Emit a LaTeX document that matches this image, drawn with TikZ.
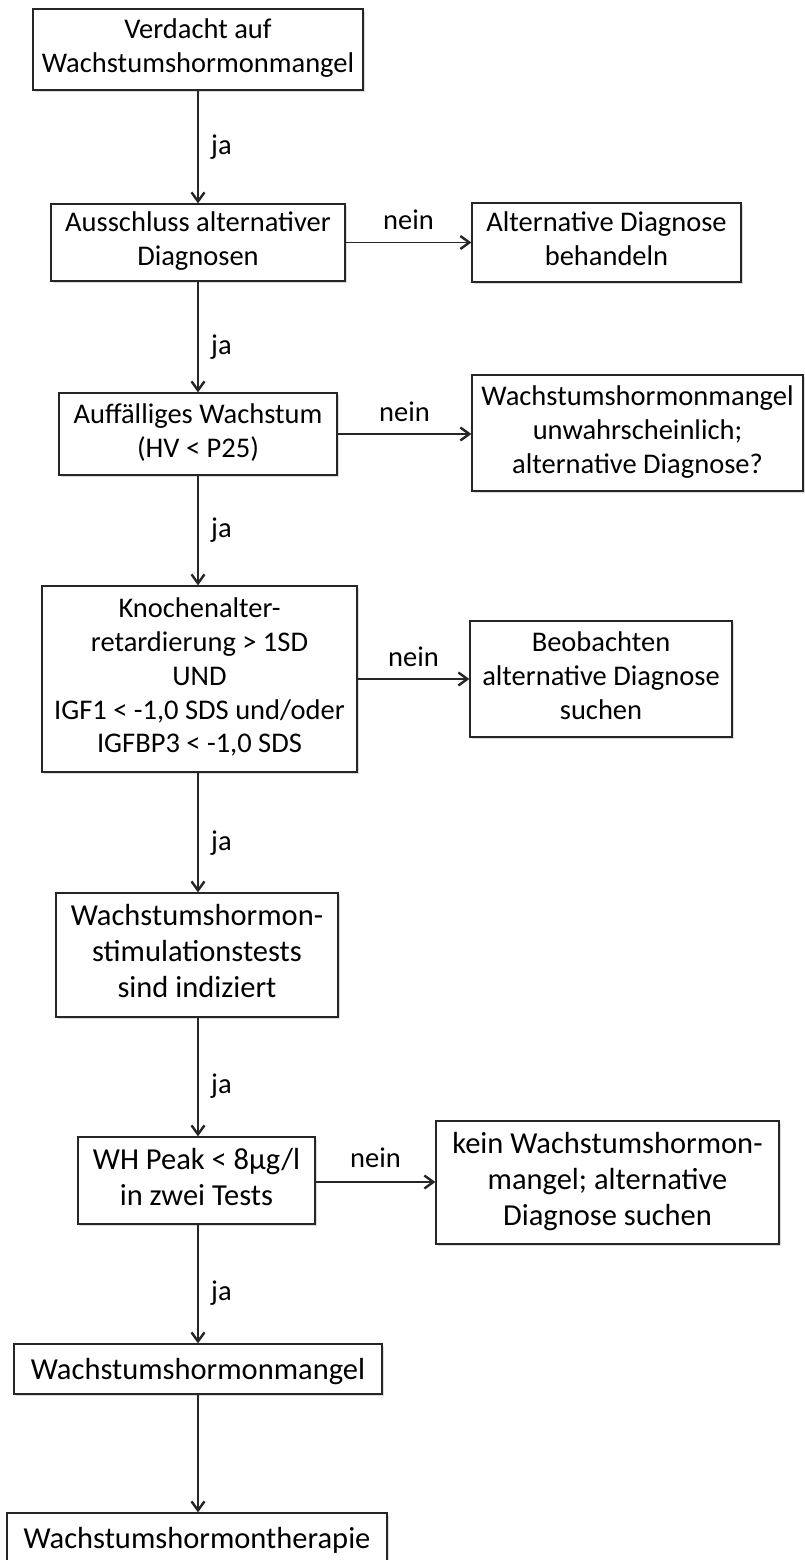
\documentclass[tikz,border=0pt]{standalone}
\usepackage{fontspec}
\setmainfont{Carlito}
\usetikzlibrary{arrows.meta,shadows}
% line struts so that text sits evenly inside the boxes
\newcommand\smallstrut{\rule[-7.3pt]{0pt}{33.8pt}}
\newcommand\largestrut{\rule[-7.9pt]{0pt}{36pt}}
\begin{document}
\begin{tikzpicture}[x=1pt,y=-1pt,
  txt/.style={font=\fontsize{28.5}{33.8}\selectfont},
  boxbase/.style={draw=black!85, fill=white, line width=1.2pt, inner sep=0pt, align=center,
    drop shadow={shadow xshift=1.6pt, shadow yshift=-1.6pt, fill=black, opacity=0.14}},
  box/.style={boxbase, txt,
    execute at begin node=\smallstrut, execute at end node=\smallstrut},
  bigbox/.style={boxbase, font=\fontsize{30.5}{36}\selectfont,
    execute at begin node=\largestrut, execute at end node=\largestrut},
  lbl/.style={txt, inner sep=0pt},
  arr/.style={line width=1.2pt, draw=black!85,
    -{Straight Barb[length=9pt,width=13pt,line width=2.4pt]}},
]
\useasboundingbox (0,0) rectangle (804,1560);

% main column
\node[box, minimum width=330pt, minimum height=81pt]     (n1) at (198,49.5)   {Verdacht auf\\Wachstumshormonmangel};
\node[box, minimum width=294pt, minimum height=77pt]     (n2) at (198,242.5)  {Ausschluss alternativer\\Diagnosen};
\node[box, minimum width=278pt, minimum height=82pt]     (n3) at (198,434)    {Auffälliges Wachstum\\(HV < P25)};
\node[box, minimum width=315pt, minimum height=186pt]    (n4) at (199.5,679)  {Knochenalter-\\retardierung > 1SD\\UND\\IGF1 < -1,0 SDS und/oder\\IGFBP3 < -1,0 SDS};
\node[bigbox, minimum width=282pt, minimum height=124pt] (n5) at (197,955)    {Wachstumshormon-\\stimulationstests\\sind indiziert};
\node[bigbox, minimum width=237pt, minimum height=87pt]  (n6) at (196.5,1180.5){WH Peak < 8µg/l\\in zwei Tests};
\node[bigbox, minimum width=368pt, minimum height=50pt]  (n7) at (198,1369)   {Wachstumshormonmangel};
\node[bigbox, minimum width=380pt, minimum height=50pt]  (n8) at (197,1538)   {Wachstumshormontherapie};

% side branches
\node[box, minimum width=269pt, minimum height=79pt]     (a2) at (606.5,242.5) {Alternative Diagnose\\behandeln};
\node[box, minimum width=331pt, minimum height=116pt]    (a3) at (637.5,433)   {Wachstumshormonmangel\\unwahrscheinlich;\\alternative Diagnose?};
\node[box, minimum width=262pt, minimum height=116pt]    (a4) at (601,679)     {Beobachten\\alternative Diagnose\\suchen};
\node[bigbox, minimum width=343pt, minimum height=123pt] (a6) at (607.5,1182.5){kein Wachstumshormon-\\mangel; alternative\\Diagnose suchen};

% "ja" connectors, all on one vertical line
\coordinate (spine) at (198,0);
\draw[arr] (spine |- n1.south) -- (spine |- n2.north);
\draw[arr] (spine |- n2.south) -- (spine |- n3.north);
\draw[arr] (spine |- n3.south) -- (spine |- n4.north);
\draw[arr] (spine |- n4.south) -- (spine |- n5.north);
\draw[arr] (spine |- n5.south) -- (spine |- n6.north);
\draw[arr] (spine |- n6.south) -- (spine |- n7.north);
\draw[arr] (spine |- n7.south) -- (spine |- n8.north);

\node[lbl, anchor=base west] (j1) at (211,154)  {ja};
\node[lbl, anchor=base west] (j2) at (211,354)  {ja};
\node[lbl, anchor=base west] (j3) at (211,537)  {ja};
\node[lbl, anchor=base west] (j4) at (211,850)  {ja};
\node[lbl, anchor=base west] (j5) at (211,1093) {ja};
\node[lbl, anchor=base west] (j6) at (211,1300) {ja};

% "nein" connectors
\draw[arr] (n2.east) -- node[lbl, anchor=base, yshift=13pt] (k2) {nein} (n2.east -| a2.west);
\draw[arr] (n3.east) -- node[lbl, anchor=base, yshift=13pt] (k3) {nein} (n3.east -| a3.west);
\draw[arr] (n4.east) -- node[lbl, anchor=base, yshift=13pt] (k4) {nein} (n4.east -| a4.west);
\draw[arr] ([yshift=-1.5pt]n6.east) -- node[lbl, anchor=base, yshift=15pt] (k6) {nein} ([yshift=-1.5pt]n6.east -| a6.west);
\end{tikzpicture}
\end{document}
